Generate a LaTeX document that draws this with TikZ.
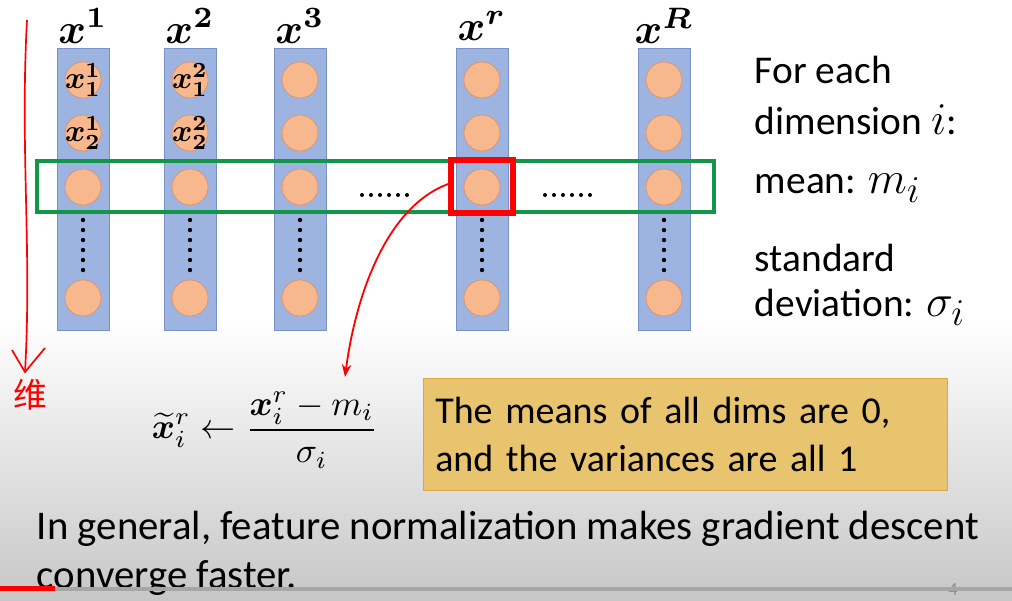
\documentclass[tikz,border=0pt]{standalone}
\usepackage{fontspec}
\usepackage{amsmath,bm,graphicx}
\setmainfont{Carlito}
\newfontfamily\cjk{Noto Sans CJK SC}
\usetikzlibrary{positioning,arrows.meta}
\definecolor{barblue}{HTML}{9DB3E0}
\definecolor{barline}{HTML}{7891C8}
\definecolor{ballfill}{HTML}{F8B88E}
\definecolor{ballline}{HTML}{E5895A}
\definecolor{boxgreen}{HTML}{11964A}
\definecolor{boxgold}{HTML}{E9C46F}
\definecolor{goldline}{HTML}{D9A840}
\newcommand{\bigmath}[2]{\scalebox{#1}{$#2$}}
\tikzset{
  bar/.style={draw=barline,fill=barblue,minimum width=52*0.025cm,minimum height=282*0.025cm,inner sep=0pt},
  ball/.style={circle,draw=ballline,fill=ballfill,minimum size=36*0.025cm,inner sep=0pt},
  balltext/.style={inner sep=0pt},
  rtext/.style={anchor=west,font=\fontsize{28}{28}\selectfont},
}
\begin{document}
\begin{tikzpicture}[x=0.025cm,y=-0.025cm]
  \shade[top color=white,bottom color=white] (0,0) rectangle (1012,320);
  \shade[top color=white,bottom color=black!22] (0,320) rectangle (1012,600);
  \useasboundingbox (0,0) rectangle (1012,600);
  % columns
  \foreach \cx/\sup[count=\ci] in {83/1,190/2,300/3,482/r,664/R} {
    \node[bar] (bar\ci) at (\cx,189) {};
    \node (lab\ci) at (\cx,26) {\bigmath{3.0}{\bm{x^{\sup}}}};
    \node[ball] (b\ci a) at (\cx,80) {};
    \node[ball] (b\ci b) at (\cx,133) {};
    \node[ball] (b\ci c) at (\cx,187) {};
    \node[ball] (b\ci d) at (\cx,298) {};
    \foreach \dy in {220,230,...,270}
      \fill (\cx,\dy) circle [radius=2.2];
  }
  \node[balltext] at (b1a) {\bigmath{2.2}{\bm{x_1^1}}};
  \node[balltext] at (b1b) {\bigmath{2.2}{\bm{x_2^1}}};
  \node[balltext] at (b2a) {\bigmath{2.2}{\bm{x_1^2}}};
  \node[balltext] at (b2b) {\bigmath{2.2}{\bm{x_2^2}}};
  \foreach \dx in {362,371,...,407} \fill (\dx,195) circle [radius=2];
  \foreach \dx in {545,554,...,590} \fill (\dx,195) circle [radius=2];
  % selection boxes
  \draw[boxgreen,line width=2.2pt] (37,161) rectangle (714,212);
  \draw[red,line width=3.6pt] (451,160) rectangle (513,213);
  \coordinate (from) at (451,183);
  \coordinate (to) at (345,377);
  \draw[red,line width=1.3pt,-{Stealth[length=9pt]}] (from) .. controls (385,205) and (355,300) .. (to);
  % right column text
  \node[rtext] (t1) at (750,70) {For each};
  \node[rtext] (t2) at (750,120) {dimension \bigmath{1.3}{i}:};
  \node[rtext] (t3) at (750,188) {mean: \bigmath{1.3}{m_i}};
  \node[rtext] (t4) at (750,258) {standard};
  \node[rtext] (t5) at (750,307) {deviation: \bigmath{1.3}{\sigma_i}};
  % formula and note
  \node (eq) at (265,430)
    {\bigmath{2.5}{\displaystyle\widetilde{\bm{x}}_i^{r} \leftarrow \frac{\bm{x}_i^{r}-m_i}{\sigma_i}}};
  \node[draw=goldline,fill=boxgold,minimum width=524*0.025cm,minimum height=112*0.025cm,
        text width=500*0.025cm,align=left,anchor=north west,font=\fontsize{27}{34}\selectfont] (note) at (423,378)
    {The means of all dims are 0,\\and the variances are all 1};
  \node[anchor=west,font=\fontsize{29}{35}\selectfont,align=left] (bottom) at (32,553)
    {In general, feature normalization makes gradient descent\\converge faster.};
  \node[text=black!45,font=\fontsize{13}{13}\selectfont] (page) at (953,590) {4};
  \fill[black!35] (0,587) rectangle (1012,591);
  \fill[red] (0,586) rectangle (55,591);
  % pen annotation
  \coordinate (penA) at (27,20);
  \coordinate (penB) at (25,372);
  \draw[red,line width=1.2pt] (penA) .. controls (20,150) and (32,250) .. (penB);
  \draw[red,line width=1.2pt] (12,350) -- (penB) -- (45,348);
  \node[text=red,font=\cjk\fontsize{24}{24}\selectfont] (wei) at (30,395) {维};
\end{tikzpicture}
\end{document}
